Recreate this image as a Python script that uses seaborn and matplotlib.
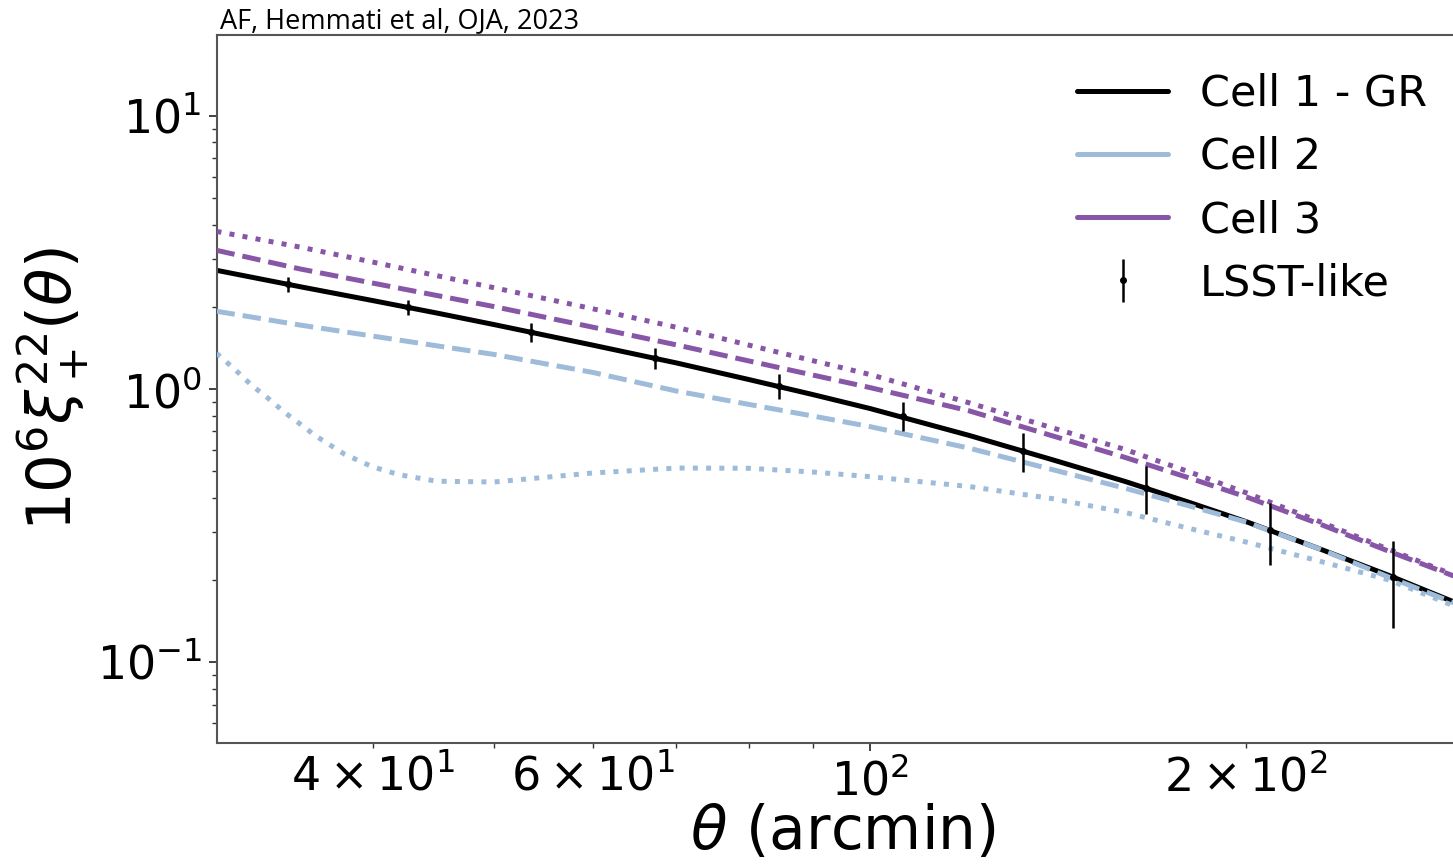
import numpy as np
import pandas as pd
import matplotlib
matplotlib.use("Agg")
import matplotlib.pyplot as plt
import seaborn as sns
from matplotlib.lines import Line2D
from matplotlib.ticker import FuncFormatter, LogLocator, NullFormatter

# ---------------- data ----------------
theta_grid = [30, 35, 40, 45, 50, 60, 70, 80, 90, 100, 120, 140, 160, 180, 200, 230, 260, 293]
cell1_gr = [2.723, 2.371, 2.110, 1.900, 1.724, 1.449, 1.247, 1.084, 0.955, 0.849,
            0.677, 0.551, 0.459, 0.385, 0.327, 0.258, 0.208, 0.1664]
cell2_dashed = [1.928, 1.716, 1.564, 1.441, 1.340, 1.151, 0.984, 0.879, 0.797, 0.729,
                0.608, 0.507, 0.4335, 0.3735, 0.326, 0.2578, 0.205, 0.165]
cell3_dashed = [3.223, 2.754, 2.445, 2.203, 2.006, 1.686, 1.452, 1.268, 1.126, 1.013,
                0.833, 0.674, 0.562, 0.473, 0.403, 0.318, 0.255, 0.207]
cell3_dotted = [3.781, 3.311, 2.919, 2.604, 2.352, 1.969, 1.684, 1.449, 1.271, 1.131,
                0.891, 0.721, 0.601, 0.498, 0.417, 0.3245, 0.259, 0.209]

theta_dot2 = [30, 31, 32, 33, 34, 35, 36, 38, 40, 42, 45, 50, 60, 70, 80, 90, 100,
              120, 140, 160, 180, 200, 230, 260, 293]
cell2_dotted = [1.354, 1.186, 1.034, 0.925, 0.823, 0.745, 0.675, 0.577, 0.519, 0.486,
                0.460, 0.457, 0.493, 0.514, 0.513, 0.497, 0.478, 0.440, 0.397, 0.3535,
                0.309, 0.2754, 0.2331, 0.2002, 0.161]

theta_lsst = [34.2, 42.7, 53.6, 67.3, 84.6, 106.2, 132.5, 166.3, 208.9, 262.0]
xi_lsst = [2.42, 2.00, 1.62, 1.298, 1.026, 0.797, 0.593, 0.435, 0.305, 0.2055]
err_lsst = [0.146, 0.125, 0.13, 0.115, 0.107, 0.097, 0.097, 0.087, 0.078, 0.072]

legend_labels = ["Cell 1 - GR", "Cell 2", "Cell 3", "LSST-like"]
title_text = "AF, Hemmati et al, OJA, 2023"

c_black = "#000000"
c_blue = "#9ebcda"
c_purple = "#8856a7"

# ---------------- figure ----------------
sns.set_theme(style="white")
plt.rcParams["font.family"] = ["DejaVu Sans"]
plt.rcParams["mathtext.fontset"] = "dejavusans"
for k in ["text.color", "axes.labelcolor", "xtick.color", "ytick.color"]:
    plt.rcParams[k] = "black"

fig = plt.figure(figsize=(14.53, 8.65), dpi=100)
ax = fig.add_axes([217 / 1453, 1 - 743 / 865, 1 - 217 / 1453, (743 - 35) / 865])

lw = 3.6
df_main = pd.DataFrame({"theta": theta_grid, "c1": cell1_gr, "c2d": cell2_dashed,
                        "c3d": cell3_dashed, "c3o": cell3_dotted})
df_dot2 = pd.DataFrame({"theta": theta_dot2, "c2o": cell2_dotted})

sns.lineplot(data=df_main, x="theta", y="c1", ax=ax, color=c_black, lw=lw, zorder=2)
sns.lineplot(data=df_main, x="theta", y="c2d", ax=ax, color=c_blue, lw=lw, ls="--", zorder=3)
sns.lineplot(data=df_dot2, x="theta", y="c2o", ax=ax, color=c_blue, lw=lw, ls=":", zorder=3)
sns.lineplot(data=df_main, x="theta", y="c3d", ax=ax, color=c_purple, lw=lw, ls="--", zorder=3)
sns.lineplot(data=df_main, x="theta", y="c3o", ax=ax, color=c_purple, lw=lw, ls=":", zorder=3)

eb = ax.errorbar(theta_lsst, xi_lsst, yerr=err_lsst, fmt="o", color="black",
                 markersize=4, elinewidth=1.8, capsize=0, zorder=5)

ax.set_xscale("log")
ax.set_yscale("log")
ax.set_xlim(30.03, 292.7)
ax.set_ylim(0.0506, 19.8)

# ticks
ax.xaxis.set_major_locator(LogLocator(base=10))
ax.xaxis.set_minor_locator(LogLocator(base=10, subs=np.arange(2, 10)))

def minor_fmt(x, pos):
    exp = int(np.floor(np.log10(x) + 1e-9))
    coef = int(round(x / 10 ** exp))
    if (coef in (4, 6) and exp == 1) or (coef == 2 and exp == 2):
        return r"$%d\times10^{%d}$" % (coef, exp)
    return ""

ax.xaxis.set_minor_formatter(FuncFormatter(minor_fmt))
ax.yaxis.set_minor_formatter(NullFormatter())

ax.tick_params(axis="both", which="major", labelsize=33, length=6, width=1.3,
               direction="out", color="#333333", labelcolor="black",
               bottom=True, left=True, pad=5)
ax.tick_params(axis="both", which="minor", labelsize=33, length=3.5, width=1.0,
               direction="out", color="#333333", labelcolor="black",
               bottom=True, left=True, pad=5)

for side in ["left", "bottom", "top"]:
    ax.spines[side].set_color("#555555")
    ax.spines[side].set_linewidth(1.5)
ax.spines["right"].set_visible(False)

ax.set_xlabel(r"$\theta$ (arcmin)", fontsize=43, labelpad=2, color="black")
ax.xaxis.set_label_coords(0.506, -0.085)
ax.set_ylabel(r"$10^6\xi_+^{22}(\theta)$", fontsize=44, labelpad=4, color="black")

handles = [Line2D([], [], color=c_black, lw=lw),
           Line2D([], [], color=c_blue, lw=lw),
           Line2D([], [], color=c_purple, lw=lw),
           eb]
leg = ax.legend(handles, legend_labels, loc="upper right", frameon=False, fontsize=31,
                handlelength=2.1, handletextpad=0.75, labelspacing=0.49,
                borderaxespad=0.2, bbox_to_anchor=(1.0, 0.983))
for t in leg.get_texts():
    t.set_color("black")

fig.text(220 / 1453, 1 - 28 / 865, title_text, fontsize=19.5,
         family=["Open Sans", "DejaVu Sans"], va="baseline", ha="left", color="black")

fig.savefig("out.png", dpi=100)
